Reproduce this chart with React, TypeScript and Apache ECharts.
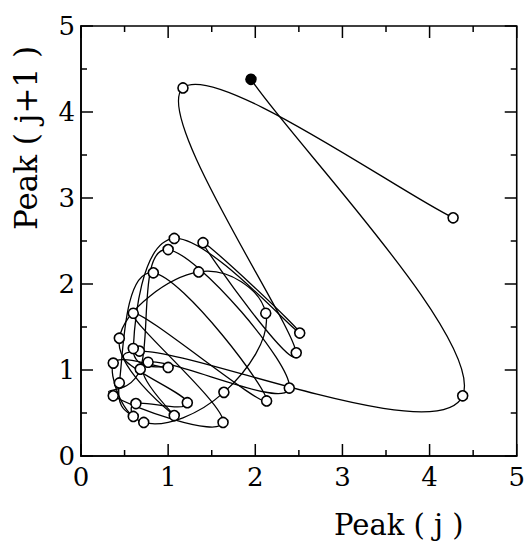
import React, { useEffect, useRef } from "react";
import * as echarts from "echarts";

// Trajectory points (Peak(j), Peak(j+1)) in visiting order; first point is the filled start
const peakJ = [1.95, 4.38, 0.67, 1.22, 0.63, 0.60, 0.44, 0.83, 2.13, 0.60, 1.63, 0.37, 0.68, 1.00, 2.39, 0.77, 1.07, 0.44, 1.35, 2.12, 1.64, 0.72, 0.37, 1.00, 0.60, 1.07, 2.51, 1.40, 2.47, 1.17, 4.27];
const peakJ1 = [4.38, 0.70, 1.22, 0.62, 0.61, 0.46, 0.85, 2.13, 0.64, 1.66, 0.39, 0.70, 1.01, 2.40, 0.79, 1.09, 0.47, 1.37, 2.14, 1.66, 0.74, 0.39, 1.08, 1.03, 1.25, 2.53, 1.43, 2.48, 1.20, 4.28, 2.77];
const tickValues = [0, 1, 2, 3, 4, 5];
const xTitle = "Peak ( j )";
const yTitle = "Peak ( j+1 )";

const FONT = "DejaVu Serif";

export default function App() {
  const ref = useRef<HTMLDivElement>(null);
  useEffect(() => {
    if (!ref.current) return;
    const chart = echarts.init(ref.current, null, { renderer: "svg" });
    const pts = peakJ.map((x, i) => [x, peakJ1[i]]);
    const scatterData = pts.map((p, i) => {
      const item: any = { value: p };
      if (i === 0) item.itemStyle = { color: "#000", borderColor: "#000" };
      return item;
    });
    const vMin = tickValues[0];
    const vMax = tickValues[tickValues.length - 1];
    // inward ticks on all four frame edges: [side, value, isMajor]
    const frameTicks: number[][] = [];
    for (let side = 0; side < 4; side++) {
      tickValues.forEach((v, i) => {
        frameTicks.push([side, v, 1]);
        if (i < tickValues.length - 1) frameTicks.push([side, (v + tickValues[i + 1]) / 2, 0]);
      });
    }
    const axisBase = (isX: boolean) => ({
      type: "value",
      min: vMin,
      max: vMax,
      interval: 1,
      axisLine: { show: true, lineStyle: { color: "#000", width: 1.6 } },
      axisTick: { show: false },
      splitLine: { show: false },
      axisLabel: {
        show: true,
        color: "#000",
        fontFamily: FONT,
        fontSize: 26,
        margin: isX ? 8 : 6,
      },
    });
    const renderCurve = (params: any, api: any) => {
      const i = params.dataIndex;
      const n = pts.length;
      if (i >= n - 1) return null;
      const c = (k: number) => api.coord(pts[Math.max(0, Math.min(n - 1, k))]);
      const p0 = c(i - 1), p1 = c(i), p2 = c(i + 1), p3 = c(i + 2);
      const t = 0.2;
      return {
        type: "bezierCurve",
        shape: {
          x1: p1[0], y1: p1[1],
          x2: p2[0], y2: p2[1],
          cpx1: p1[0] + (p2[0] - p0[0]) * t,
          cpy1: p1[1] + (p2[1] - p0[1]) * t,
          cpx2: p2[0] - (p3[0] - p1[0]) * t,
          cpy2: p2[1] - (p3[1] - p1[1]) * t,
        },
        style: { stroke: "#000", lineWidth: 1.3, fill: null },
      };
    };
    const renderFrameTick = (params: any, api: any) => {
      const f = frameTicks[params.dataIndex];
      const side = f[0], v = f[1];
      const len = f[2] ? 12 : 6;
      const w = 1.5;
      let a: number[];
      if (side === 0) {
        a = api.coord([v, vMin]);
        return { type: "rect", shape: { x: a[0] - w / 2, y: a[1] - len, width: w, height: len }, style: { fill: "#000" } };
      } else if (side === 1) {
        a = api.coord([v, vMax]);
        return { type: "rect", shape: { x: a[0] - w / 2, y: a[1], width: w, height: len }, style: { fill: "#000" } };
      } else if (side === 2) {
        a = api.coord([vMin, v]);
        return { type: "rect", shape: { x: a[0], y: a[1] - w / 2, width: len, height: w }, style: { fill: "#000" } };
      }
      a = api.coord([vMax, v]);
      return { type: "rect", shape: { x: a[0] - len, y: a[1] - w / 2, width: len, height: w }, style: { fill: "#000" } };
    };
    chart.setOption({
      animation: false,
      backgroundColor: "#fff",
      grid: { left: 81, right: 9, top: 26, bottom: 82, show: true, borderColor: "#000", borderWidth: 1.6, backgroundColor: "transparent" },
      xAxis: {
        ...axisBase(true),
        name: xTitle,
        nameLocation: "middle",
        nameGap: 54,
        nameTextStyle: { color: "#000", fontFamily: FONT, fontSize: 29, padding: [0, 0, 0, 200] },
      },
      yAxis: {
        ...axisBase(false),
        name: yTitle,
        nameLocation: "middle",
        nameGap: 40,
        nameTextStyle: { color: "#000", fontFamily: FONT, fontSize: 31, padding: [0, 0, 0, 206] },
      },
      series: [
        {
          type: "custom",
          renderItem: renderFrameTick,
          data: frameTicks.map((f) => [f[1], f[1]]),
          encode: { x: 0, y: 1 },
          silent: true,
          z: 4,
        },
        {
          type: "custom",
          renderItem: renderCurve,
          data: pts,
          encode: { x: 0, y: 1 },
          z: 2,
        },
        {
          type: "scatter",
          data: scatterData,
          symbol: "circle",
          symbolSize: 10,
          itemStyle: { color: "#fff", borderColor: "#000", borderWidth: 1.6, opacity: 1 },
          z: 3,
        },
      ],
    });
    return () => chart.dispose();
  }, []);
  return <div ref={ref} style={{ position: "absolute", left: 0, top: 0, width: 528, height: 544 }} />;
}
